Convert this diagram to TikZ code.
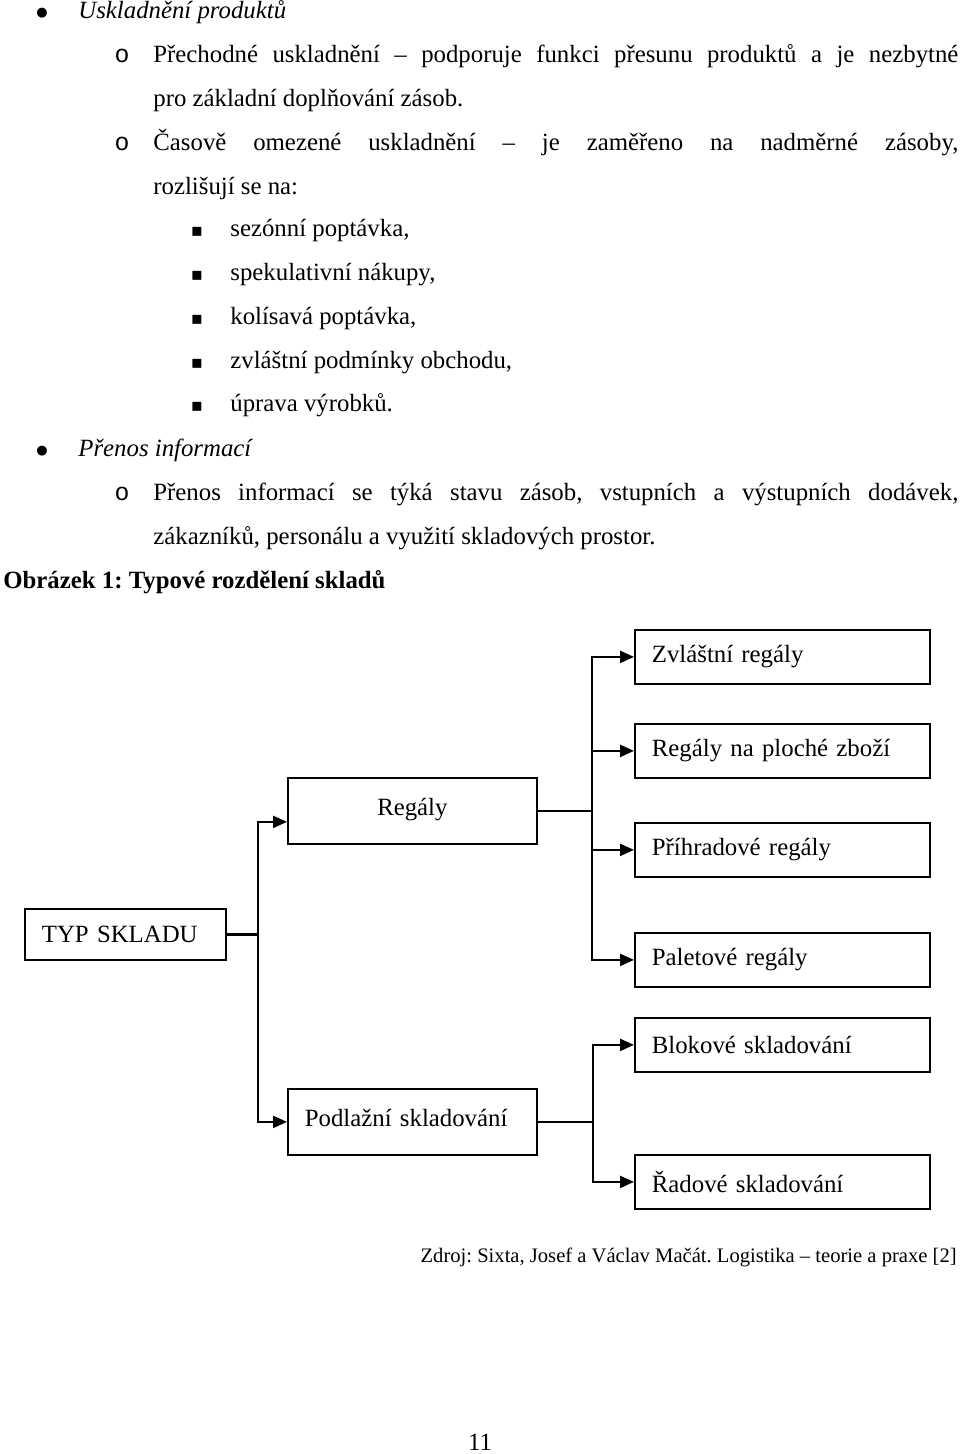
\documentclass[tikz,border=0pt]{standalone}
\usepackage{fontspec}
\setmainfont{Liberation Serif}
\newfontfamily\monofont{Liberation Mono}
\newfontfamily\symfont{DejaVu Sans}
\usetikzlibrary{arrows.meta,positioning}
\newcommand{\mainsize}{\fontsize{12.4pt}{22pt}\selectfont}
\newcommand{\notesize}{\fontsize{10.3pt}{12pt}\selectfont}
\frenchspacing

\begin{document}
\begin{tikzpicture}[x=0.5pt, y=-0.5pt,
  txt/.style={inner sep=0pt, font=\mainsize},
  box/.style={draw, line width=0.9pt, inner xsep=8.5pt, inner ysep=0pt, font=\mainsize, align=left, anchor=north west},
  sidebox/.style={box, text width=130.5pt, minimum height=27pt},
  midbox/.style={box, text width=107.5pt, minimum height=33pt},
  link/.style={line width=1.1pt},
  arr/.style={link, -{Triangle[length=7pt, width=6pt]}}]
  \useasboundingbox (0,0) rectangle (960,1454);

  \node[txt, anchor=base] (b1) at (42,17) {\symfont\fontsize{6.5pt}{8pt}\selectfont ●};
  \node[txt, anchor=base west, font=\mainsize\itshape] (h1) at (78,19) {Uskladnění produktů};
  \node[txt, anchor=base] (o1) at (122,63) {\monofont o};
  \node[txt, anchor=base west] (l1) at (153,63) {\makebox[402.5pt][s]{Přechodné uskladnění – podporuje funkci přesunu produktů a je nezbytné}};
  \node[txt, anchor=base west] (l2) at (153,107) {pro základní doplňování zásob.};
  \node[txt, anchor=base] (o2) at (122,151) {\monofont o};
  \node[txt, anchor=base west] (l3) at (153,151) {\makebox[402.5pt][s]{Časově omezené uskladnění – je zaměřeno na nadměrné zásoby,}};
  \node[txt, anchor=base west] (l4) at (153,195) {rozlišují se na:};
  \foreach \t [count=\i] in {{sezónní poptávka,},{spekulativní nákupy,},{kolísavá poptávka,},{zvláštní podmínky obchodu,},{úprava výrobků.}}{
    \node[txt, anchor=base] (s\i) at (197,193.25+43.75*\i) {\symfont\small ▪};
    \node[txt, anchor=base west] (k\i) at (230,193.25+43.75*\i) {\t};
  }
  \node[txt, anchor=base] (b2) at (42,454) {\symfont\fontsize{6.5pt}{8pt}\selectfont ●};
  \node[txt, anchor=base west, font=\mainsize\itshape] (h2) at (78,456) {Přenos informací};
  \node[txt, anchor=base] (o3) at (122,500) {\monofont o};
  \node[txt, anchor=base west] (l5) at (153,500) {\makebox[402.5pt][s]{Přenos informací se týká stavu zásob, vstupních a výstupních dodávek,}};
  \node[txt, anchor=base west] (l6) at (153,544) {zákazníků, personálu a využití skladových prostor.};
  \node[txt, anchor=base west, font=\mainsize\bfseries] (cap) at (3,588) {Obrázek 1: Typové rozdělení skladů};

  \node[box, text width=83.5pt, minimum height=25.5pt] (typ) at (24,908) {TYP SKLADU};
  \node[midbox, align=center] (reg) at (287,777) {\raisebox{4pt}{Regály}};
  \node[midbox] (podl) at (287,1088) {\raisebox{4.5pt}{Podlažní skladování}};
  \node[sidebox] (zvl) at (634,629) {Zvláštní regály};
  \node[sidebox] (plo) at (634,723) {Regály na ploché zboží};
  \node[sidebox] (pri) at (634,822) {Příhradové regály};
  \node[sidebox] (pal) at (634,932) {Paletové regály};
  \node[sidebox] (blok) at (634,1017) {Blokové skladování};
  \node[sidebox] (rad) at (634,1154) {Řadové skladování};

  \draw[link] (typ.east) -- ++(31,0) coordinate (tj);
  \draw[arr] (tj) |- ([yshift=-5.5pt]reg.west);
  \draw[arr] (tj) |- (podl.west);
  \draw[link] (reg.east) -- ++(54,0) coordinate (rj);
  \foreach \n in {zvl,plo,pri,pal}
    \draw[arr] (rj) |- (\n.west);
  \draw[link] (podl.east) -- ++(55,0) coordinate (pj);
  \foreach \n in {blok,rad}
    \draw[arr] (pj) |- (\n.west);

  \node[txt, anchor=base east, font=\notesize] (src) at (957,1262) {Zdroj: Sixta, Josef a Václav Mačát. Logistika – teorie a praxe [2]};
  \node[txt, anchor=base] (pg) at (480,1450) {11};
\end{tikzpicture}
\end{document}
